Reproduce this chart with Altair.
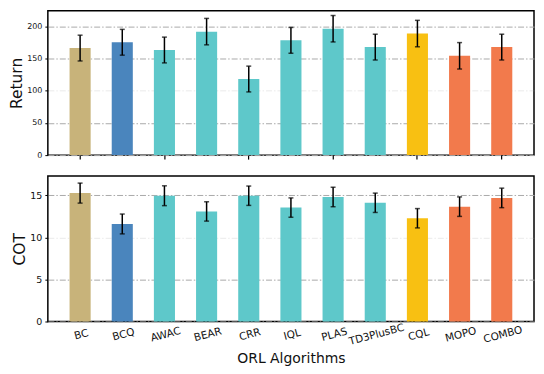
import altair as alt
import pandas as pd

algos = ["BC", "BCQ", "AWAC", "BEAR", "CRR", "IQL", "PLAS", "TD3PlusBC", "CQL", "MOPO", "COMBO"]
colors = ["#C8B37A", "#4A85BD", "#5EC8CA", "#5EC8CA", "#5EC8CA", "#5EC8CA", "#5EC8CA",
          "#5EC8CA", "#F8C012", "#F27A4C", "#F27A4C"]
ret_mean = [166, 175, 163, 191.5, 118, 178, 196, 167.5, 188.5, 154, 167.5]
ret_err = [20, 20, 20, 20.5, 20, 20, 20.5, 20, 20.5, 20.5, 20]
cot_mean = [15.27, 11.6, 14.96, 13.09, 14.96, 13.55, 14.81, 14.12, 12.28, 13.66, 14.7]
cot_err = [1.19, 1.18, 1.18, 1.15, 1.15, 1.15, 1.16, 1.15, 1.15, 1.16, 1.16]

df = pd.DataFrame({
    "algo": algos, "color": colors,
    "ret": ret_mean, "ret_err": ret_err,
    "cot": cot_mean, "cot_err": cot_err,
})

FONT = "DejaVu Sans"
W = 488
grid_dash = [6, 2, 1.5, 2]

xscale = alt.Scale(domain=algos, paddingInner=0.5, paddingOuter=0.515)


def panel(field, err, title, domain, ticks, mid, height, bottom):
    base = alt.Chart(df).transform_calculate(
        lo=f"datum.{field} - datum.{err}", hi=f"datum.{field} + datum.{err}"
    )
    if bottom:
        xaxis = alt.Axis(title="ORL Algorithms", labelAngle=-15, labelAlign="center",
                         labelBaseline="top", labelFontSize=10.5, labelColor="#111",
                         titleFontSize=14, titleFontWeight="normal", titleColor="#111",
                         titlePadding=5, ticks=False, labelPadding=8, domain=False,
                         labelFont=FONT, titleFont=FONT, grid=False, labelOverlap=False)
    else:
        xaxis = alt.Axis(title=None, labels=False, values=algos[::2], tickSize=4,
                         tickColor="black", tickWidth=1.2, domain=False, grid=False)
    x = alt.X("algo:N", scale=xscale, axis=xaxis, sort=algos)
    yscale = alt.Scale(domain=domain, nice=False)
    yaxis = alt.Axis(
        title=title, values=ticks, titleFontSize=15.5, titleFontWeight="normal",
        titleColor="#111", titleFont=FONT, labelFont=FONT,
        labelFontSize=8 if not bottom else 9.5, labelColor="#111", labelOverlap=False,
        tickSize=3, tickColor="black", domain=False, titlePadding=2, labelPadding=3,
        grid=True, gridColor="#aaaaaa", gridDash=grid_dash, gridWidth=1,
        gridOpacity={"condition": {"test": f"datum.value == {mid}", "value": 0.25}, "value": 1},
    )
    bars = base.mark_bar().encode(
        x=x, y=alt.Y(f"{field}:Q", scale=yscale, axis=yaxis),
        color=alt.Color("color:N", scale=None))
    rule = base.mark_rule(color="black", strokeWidth=1.5).encode(
        x=x, y=alt.Y("lo:Q", scale=yscale, axis=yaxis), y2="hi:Q")
    cap_lo = base.mark_tick(color="black", size=5, thickness=1.5, orient="horizontal").encode(
        x=x, y=alt.Y("lo:Q", scale=yscale, axis=yaxis))
    cap_hi = base.mark_tick(color="black", size=5, thickness=1.5, orient="horizontal").encode(
        x=x, y=alt.Y("hi:Q", scale=yscale, axis=yaxis))
    return alt.layer(bars, rule, cap_lo, cap_hi).properties(width=W, height=height)


top = panel("ret", "ret_err", "Return", [0, 224], [0, 50, 100, 150, 200], 100, 145, False)
bot = panel("cot", "cot_err", "COT", [0, 17.3], [0, 5, 10, 15], 10, 146, True)

chart = alt.vconcat(top, bot, spacing=14).resolve_scale(x="shared").configure_view(
    stroke="black", strokeWidth=1.5
).properties(padding={"left": 0, "top": 1, "right": 1, "bottom": 0})

chart.save("out.html", embed_options={"renderer": "svg", "actions": False})
